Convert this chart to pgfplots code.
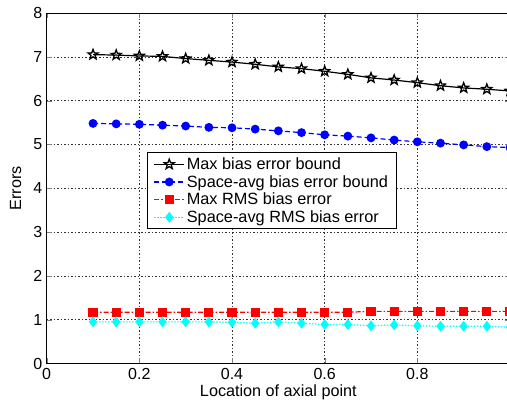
\documentclass[border=0pt]{standalone}
\usepackage{fontspec}
\setmainfont{Liberation Sans}
\usepackage{pgfplots}
\pgfplotsset{compat=1.18}
\pgfdeclareplotmark{pentagram}{%
  \pgfpathmoveto{\pgfqpointpolar{90}{\pgfplotmarksize}}%
  \pgfpathlineto{\pgfqpointpolar{126}{0.42\pgfplotmarksize}}%
  \pgfpathlineto{\pgfqpointpolar{162}{\pgfplotmarksize}}%
  \pgfpathlineto{\pgfqpointpolar{198}{0.42\pgfplotmarksize}}%
  \pgfpathlineto{\pgfqpointpolar{234}{\pgfplotmarksize}}%
  \pgfpathlineto{\pgfqpointpolar{270}{0.42\pgfplotmarksize}}%
  \pgfpathlineto{\pgfqpointpolar{306}{\pgfplotmarksize}}%
  \pgfpathlineto{\pgfqpointpolar{342}{0.42\pgfplotmarksize}}%
  \pgfpathlineto{\pgfqpointpolar{18}{\pgfplotmarksize}}%
  \pgfpathlineto{\pgfqpointpolar{54}{0.42\pgfplotmarksize}}%
  \pgfpathclose
  \pgfusepathqstroke}
\definecolor{mblue}{rgb}{0,0,1}
\definecolor{mred}{rgb}{1,0,0}
\definecolor{mcyan}{rgb}{0,1,1}
\begin{document}
\begin{tikzpicture}
\begin{axis}[
  scale only axis,
  width=463.3pt, height=350.5pt,
  xmin=0, xmax=1, ymin=0, ymax=8,
  xtick={0,0.2,0.4,0.6,0.8}, ytick={0,1,...,8},
  xticklabel style={/pgf/number format/fixed, yshift=-1pt},
  yticklabel style={xshift=-1pt},
  /pgf/number format/assume math mode=true,
  tick label style={font=\fontsize{16}{19}\selectfont},
  label style={font=\fontsize{16.2}{19}\selectfont},
  xlabel={Location of axial point}, ylabel={Errors},
  xlabel style={yshift=1pt}, ylabel style={yshift=5pt},
  tick align=inside, major tick length=5pt,
  axis line style={line width=1pt},
  grid=major,
  major grid style={black!80, line width=0.6pt, dash pattern=on 1.5pt off 2pt},
  legend cell align=left,
  legend style={at={(0.217,0.383)}, anchor=south west, draw=black, line width=0.8pt,
    font=\fontsize{16.3}{19}\selectfont, inner xsep=6pt, inner ysep=3pt, row sep=0.3pt,
    /tikz/every even column/.append style={column sep=8pt}},
  legend image code/.code={
    \draw[mark repeat=2,mark phase=2] plot coordinates {(0pt,0pt) (15pt,0pt) (30pt,0pt)};},
]
\coordinate (O) at (rel axis cs:0,0);
\addplot[black, line width=1.2pt, mark=pentagram, mark size=5.2pt, mark options={solid, line width=1.3pt, fill=none}]
coordinates {(0.10,7.05)(0.15,7.04)(0.20,7.02)(0.25,7.01)(0.30,6.96)(0.35,6.92)(0.40,6.88)(0.45,6.83)(0.50,6.77)(0.55,6.73)(0.60,6.67)(0.65,6.60)(0.70,6.52)(0.75,6.47)(0.80,6.41)(0.85,6.34)(0.90,6.29)(0.95,6.26)(1.00,6.22)};
\addlegendentry{Max bias error bound}
\addplot[mblue, line width=1.2pt, dash pattern=on 5pt off 3pt, mark=*, mark size=3.8pt, mark options={solid, fill=mblue}]
coordinates {(0.10,5.48)(0.15,5.47)(0.20,5.46)(0.25,5.44)(0.30,5.42)(0.35,5.39)(0.40,5.38)(0.45,5.35)(0.50,5.31)(0.55,5.27)(0.60,5.22)(0.65,5.19)(0.70,5.15)(0.75,5.10)(0.80,5.06)(0.85,5.03)(0.90,4.99)(0.95,4.95)(1.00,4.93)};
\addlegendentry{Space-avg bias error bound}
\addplot[mred, line width=1.2pt, dash pattern=on 5pt off 2pt on 1.5pt off 2pt, mark=square*, mark size=4pt, mark options={solid, fill=mred}]
coordinates {(0.10,1.17)(0.15,1.17)(0.20,1.17)(0.25,1.17)(0.30,1.17)(0.35,1.17)(0.40,1.17)(0.45,1.17)(0.50,1.17)(0.55,1.17)(0.60,1.17)(0.65,1.17)(0.70,1.19)(0.75,1.19)(0.80,1.19)(0.85,1.19)(0.90,1.19)(0.95,1.19)(1.00,1.19)};
\addlegendentry{Max RMS bias error}
\addplot[mcyan, line width=1.2pt, dash pattern=on 1.5pt off 1.5pt, mark=diamond*, mark size=4.5pt, mark options={solid, fill=mcyan}]
coordinates {(0.10,0.95)(0.15,0.95)(0.20,0.95)(0.25,0.95)(0.30,0.95)(0.35,0.95)(0.40,0.94)(0.45,0.92)(0.50,0.95)(0.55,0.92)(0.60,0.89)(0.65,0.89)(0.70,0.86)(0.75,0.88)(0.80,0.86)(0.85,0.85)(0.90,0.85)(0.95,0.85)(1.00,0.83)};
\addlegendentry{Space-avg RMS bias error}
\end{axis}
\pgfresetboundingbox
\path[use as bounding box] (O) ++(-46.7pt,-40.5pt) rectangle ++(507pt,404pt);
\end{tikzpicture}
\end{document}
